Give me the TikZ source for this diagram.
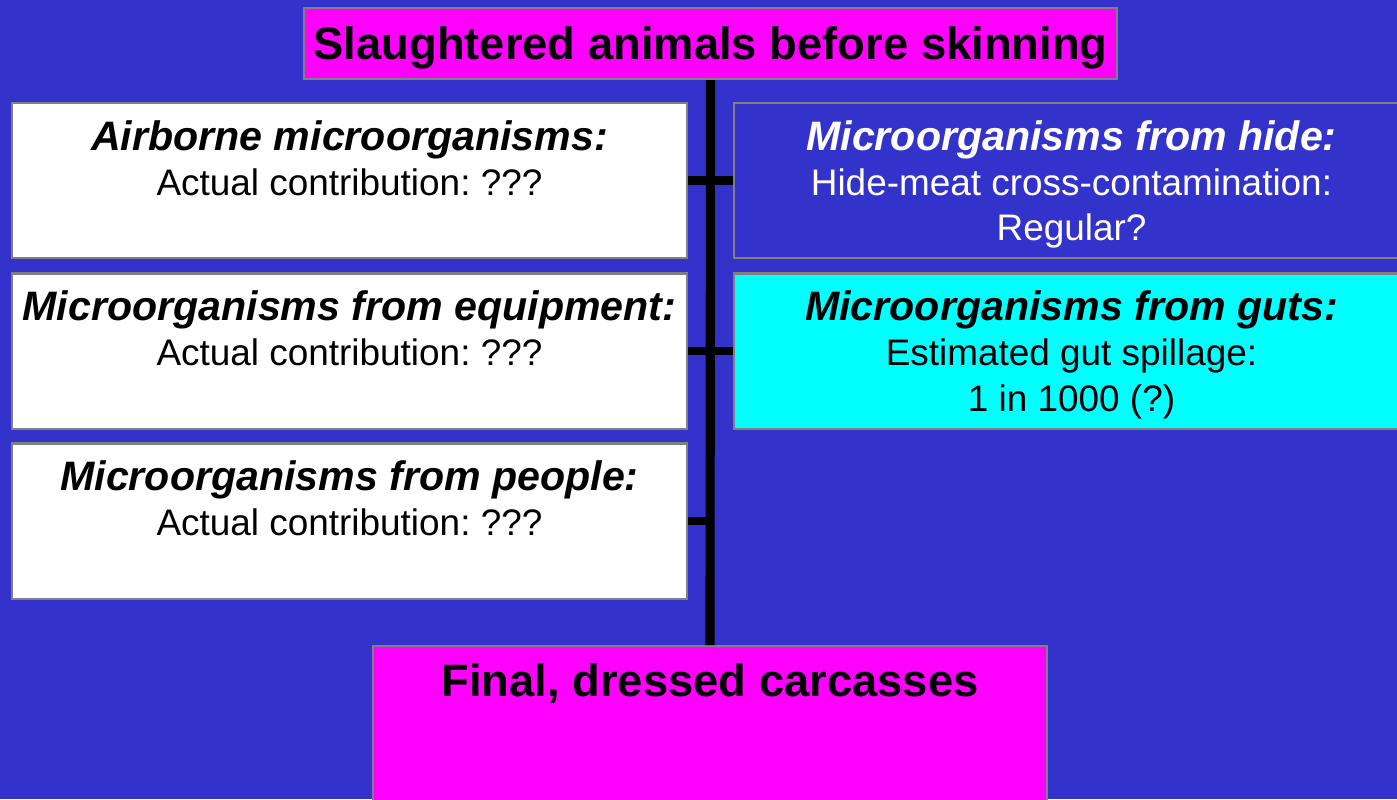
\documentclass[tikz,border=0pt]{standalone}
\usepackage{fontspec}
\setmainfont{Liberation Sans}
\frenchspacing

\definecolor{slideblue}{RGB}{51,51,204}
\definecolor{boxgray}{RGB}{128,128,128}
\definecolor{stagepink}{RGB}{255,0,255}
\definecolor{gutcyan}{RGB}{0,255,255}

% heading (bold italic) + body lines, set from the top of the box
\newcommand{\srctext}[2]{\parbox[c][1.55cm][t]{6.75cm}{\centering\fontsize{10.5}{12.9}\selectfont\rule{0pt}{13.4pt}{\fontsize{11.7}{12.9}\selectfont\bfseries\itshape #1}\\#2}}

\begin{document}
\begin{tikzpicture}[x=0.01cm,y=-0.01cm,
		box/.style={draw=boxgray,line width=0.6pt,inner sep=0pt,minimum width=6.75cm,minimum height=1.55cm},
		stage/.style={draw=boxgray,line width=0.6pt,fill=stagepink,inner sep=0pt},
		spine/.style={line width=2.6pt},
		tick/.style={line width=2.3pt}]
			\useasboundingbox (0,0) rectangle (1397,799);
			\fill[slideblue] (0,0) rectangle (1397,799);

			\node[stage,minimum width=8.13cm,minimum height=0.71cm,text height=0.33cm,text depth=0.02cm,
				font=\fontsize{12.9}{15}\selectfont\bfseries] (top) at (710.5,43.5) {Slaughtered animals before skinning};

			\node[box,fill=white] (air) at (349.5,180.5) {\srctext{Airborne microorganisms:}{Actual contribution: ???}};
			\node[box,fill=white] (equip) at (349.5,351) {\srctext{Microorganisms from equipment:}{Actual contribution: ???}};
			\node[box,fill=white] (people) at (349.5,521) {\srctext{Microorganisms from people:}{Actual contribution: ???}};

			\node[box,fill=slideblue,text=white] (hide) at (1071.5,180.5) {\srctext{Microorganisms from hide:}{Hide-meat cross-contamination:\\Regular?}};
			\node[box,fill=gutcyan] (guts) at (1071.5,351) {\srctext{Microorganisms from guts:}{Estimated gut spillage:\\1 in 1000 (?)}};

			\node[stage,anchor=north] (final) at (710,645)
				{\parbox[c][1.7cm][t]{6.74cm}{\centering\fontsize{12.9}{15}\selectfont\bfseries\rule{0pt}{0.5cm}Final, dressed carcasses}};

			\draw[spine] (top.south) -- (final.north);
			\draw[tick] (air.east) -- (hide.west);
			\draw[tick] (equip.east) -- (guts.west);
			\draw[tick] (people.east) -- (people.east -| top.south);

			% \draw[help lines,step=50] (0,0) grid (1397,799);
		\end{tikzpicture}
\end{document}
